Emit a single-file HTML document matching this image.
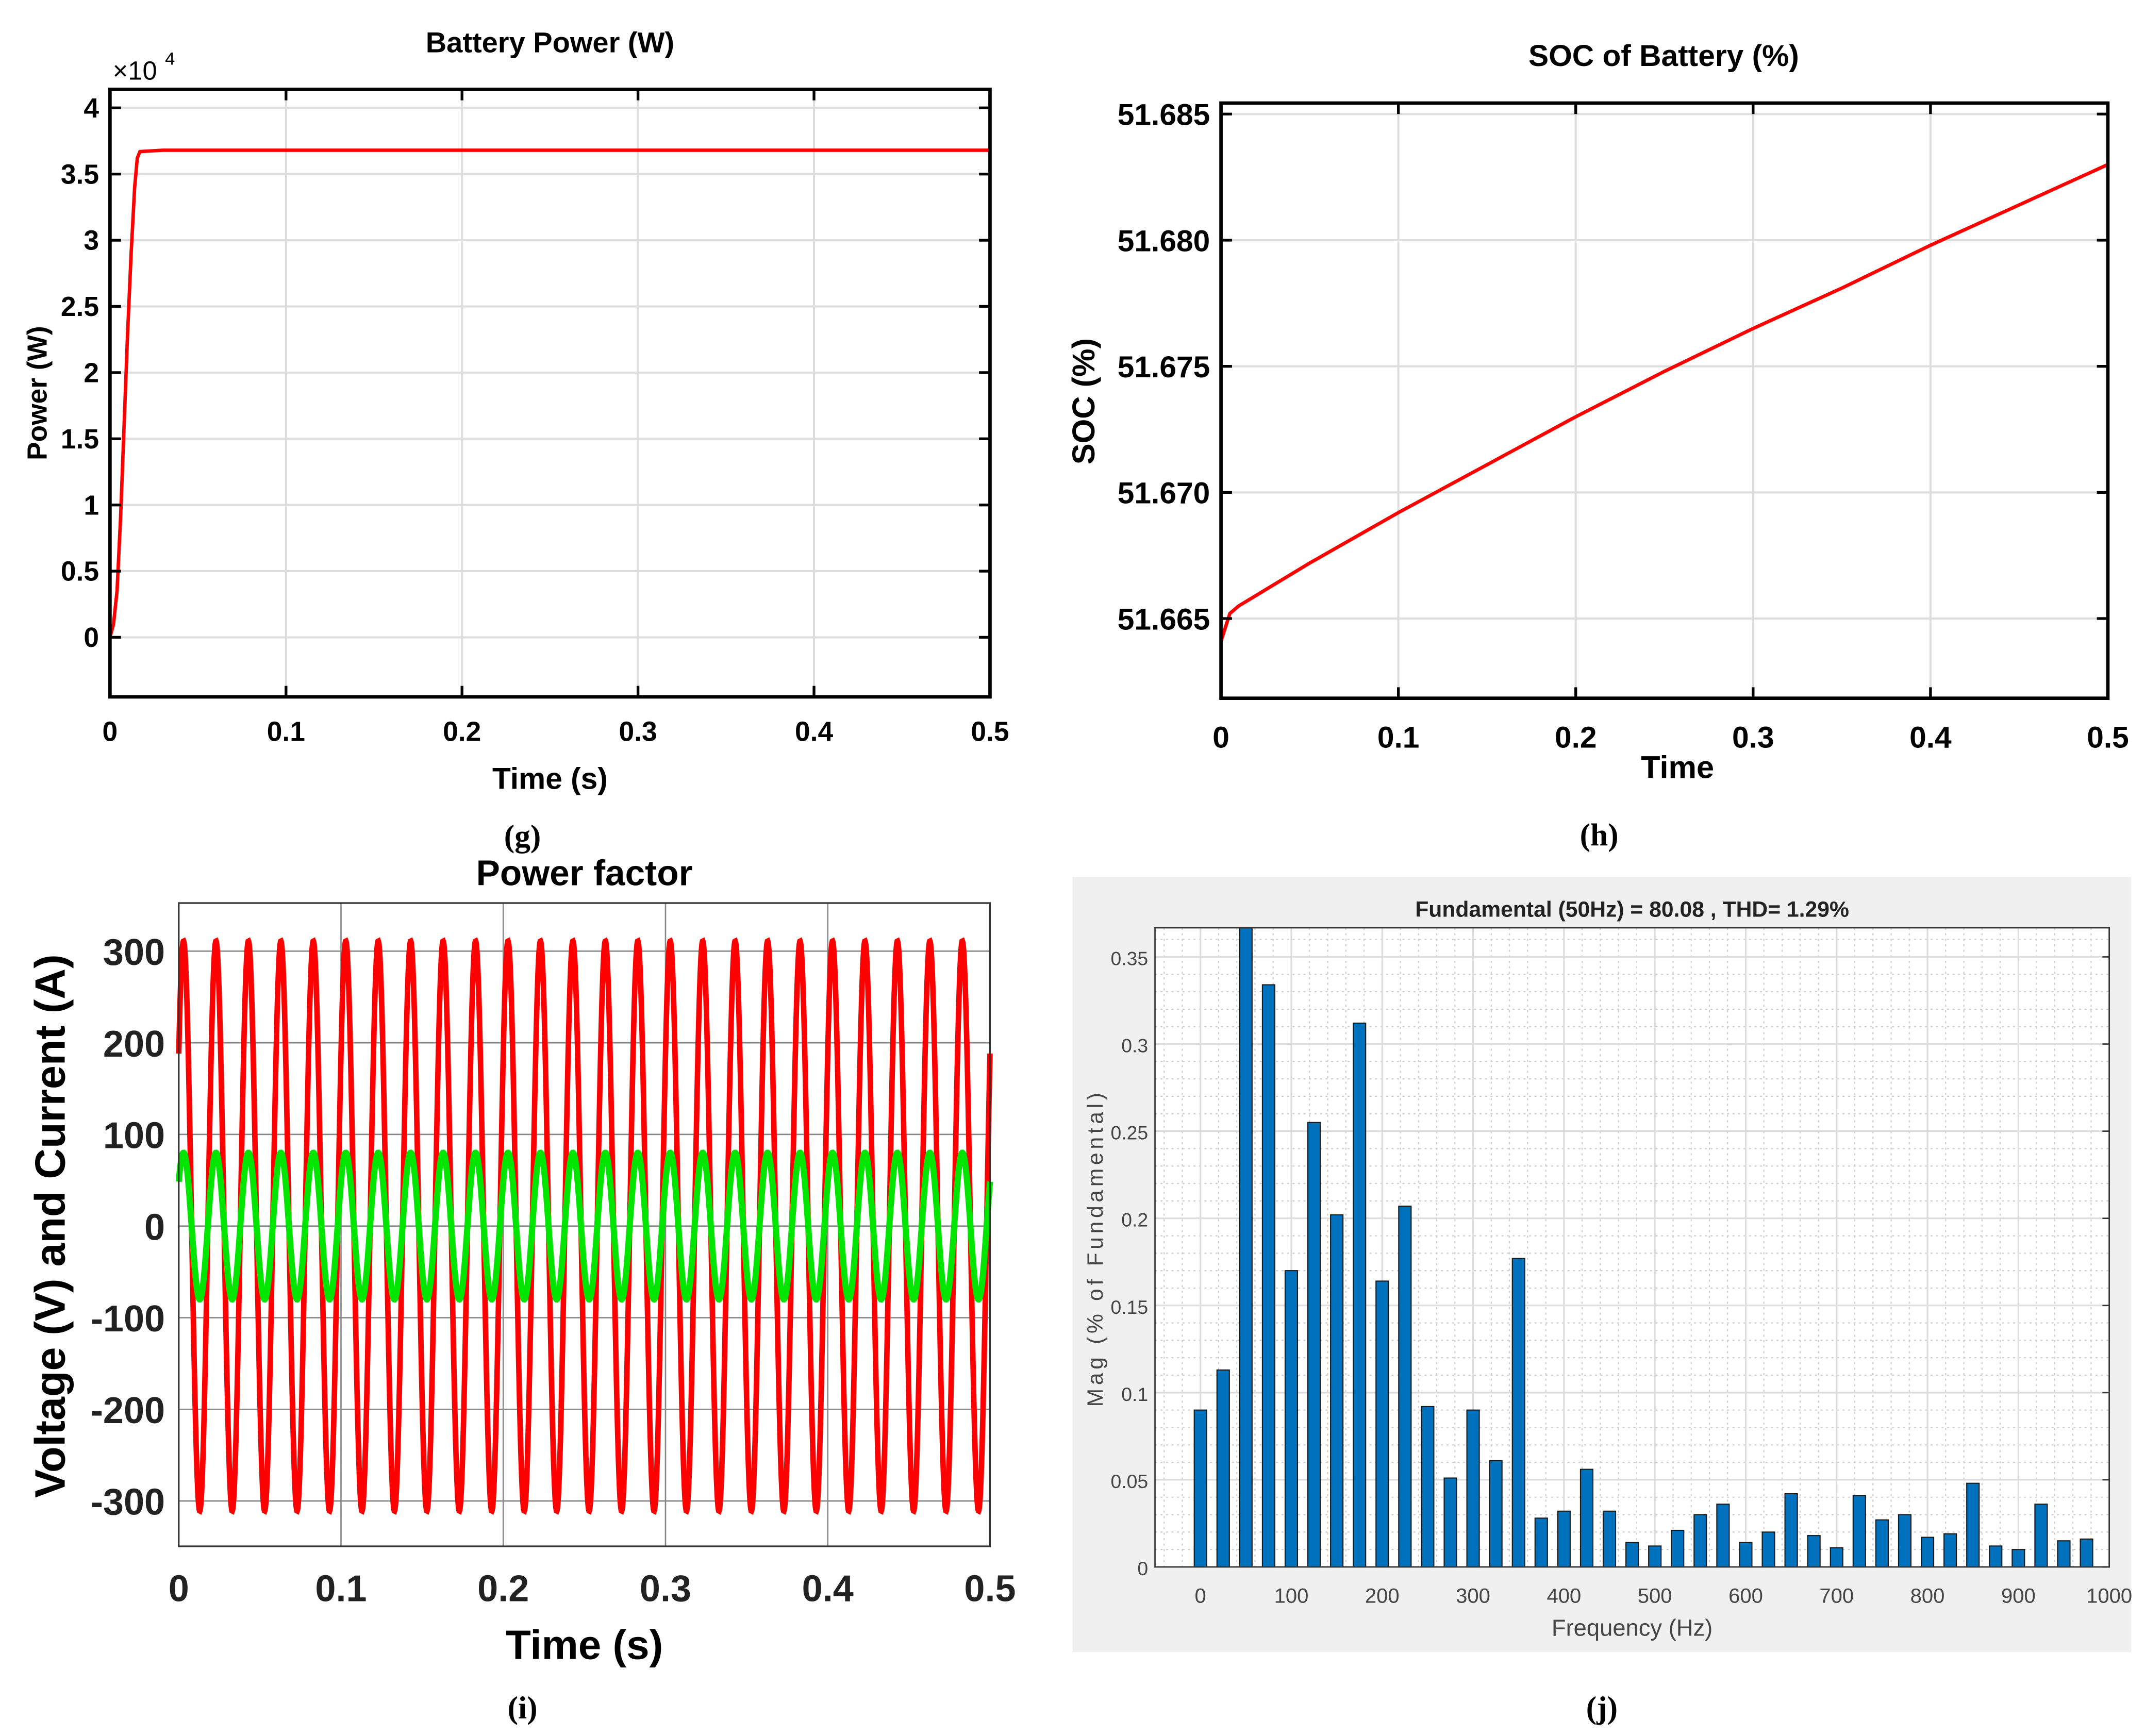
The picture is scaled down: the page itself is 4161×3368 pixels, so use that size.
<!DOCTYPE html>
<html><head><meta charset="utf-8"><style>
html,body{margin:0;padding:0;background:#fff}
svg{display:block}
text{font-family:"Liberation Sans",Arial,sans-serif}
text.serif{font-family:"Liberation Serif",serif}
</style></head><body>
<svg id="fig" xmlns="http://www.w3.org/2000/svg" width="4161" height="3368" viewBox="0 0 1560 1263" preserveAspectRatio="none"></svg>
<script>
// ---- Panel g data ----
const gTime=[0,0.002,0.004,0.006,0.008,0.010,0.012,0.014,0.0155,0.017,0.03,0.5];
const gPower=[0,0.1,0.35,0.9,1.6,2.3,2.9,3.4,3.62,3.67,3.68,3.68];
const gYTicks=[0,0.5,1,1.5,2,2.5,3,3.5,4];
const gXTicks=[0,0.1,0.2,0.3,0.4,0.5];
// ---- Panel h data ----
const hTime=[0,0.005,0.01,0.05,0.1,0.15,0.2,0.25,0.3,0.35,0.4,0.45,0.5];
const hSOC=[51.6641,51.6652,51.6655,51.6672,51.6692,51.6711,51.6730,51.6748,51.6765,51.6781,51.6798,51.6814,51.6830];
const hYTicks=[51.665,51.670,51.675,51.680,51.685];
const hXTicks=[0,0.1,0.2,0.3,0.4,0.5];
// ---- Panel i data ----
const iVoltAmp=[311];
const iCurrAmp=[80];
const iFreq=[50];
const iPhase=[0.65];
const iYTicks=[-300,-200,-100,0,100,200,300];
const iXTicks=[0,0.1,0.2,0.3,0.4,0.5];
// ---- Panel j data ----
const jFreqs=[0,25,50,75,100,125,150,175,200,225,250,275,300,325,350,375,400,425,450,475,500,525,550,575,600,625,650,675,700,725,750,775,800,825,850,875,900,925,950,975];
const jMags=[0.09,0.113,0.367,0.334,0.17,0.255,0.202,0.312,0.164,0.207,0.092,0.051,0.09,0.061,0.177,0.028,0.032,0.056,0.032,0.014,0.012,0.021,0.03,0.036,0.014,0.02,0.042,0.018,0.011,0.041,0.027,0.03,0.017,0.019,0.048,0.012,0.01,0.036,0.015,0.016];
const jYTicks=[0,0.05,0.1,0.15,0.2,0.25,0.3,0.35];
const jXTicks=[0,100,200,300,400,500,600,700,800,900,1000];

const NS="http://www.w3.org/2000/svg";
const svg=document.getElementById('fig');
function el(tag,attrs,parent,txt){const e=document.createElementNS(NS,tag);for(const k in attrs)e.setAttribute(k,attrs[k]);if(txt!==undefined)e.textContent=txt;(parent||svg).appendChild(e);return e;}
function lin(d0,d1,r0,r1){return v=>r0+(v-d0)/(d1-d0)*(r1-r0);}

// ================= Panel g =================
(function(){
const L=80,R=720,T=65,B=507;
const x=lin(0,0.5,L,R), y=lin(-0.45,4.14,B,T);
const g=el('g',{});


gYTicks.forEach(v=>{el('line',{x1:L,x2:R,y1:y(v),y2:y(v),stroke:'#ddd','stroke-width':1.5},g);});
gXTicks.forEach(v=>{el('line',{x1:x(v),x2:x(v),y1:T,y2:B,stroke:'#ddd','stroke-width':1.5},g);});
const p=el('polyline',{points:gTime.map((t,i)=>x(t)+','+y(gPower[i])).join(' '),fill:'none',stroke:'#ff0000','stroke-width':2.5},g);


el('rect',{x:L,y:T,width:R-L,height:B-T,fill:'none',stroke:'#000','stroke-width':2.5},g);
gYTicks.forEach(v=>{el('line',{x1:L,x2:L+8,y1:y(v),y2:y(v),stroke:'#000','stroke-width':2},g);el('line',{x1:R,x2:R-8,y1:y(v),y2:y(v),stroke:'#000','stroke-width':2},g);
const t=el('text',{x:L-8,y:y(v)+7,'text-anchor':'end','font-size':20,'font-weight':'bold'},g,String(v));

});
gXTicks.forEach(v=>{el('line',{x1:x(v),x2:x(v),y1:B,y2:B-8,stroke:'#000','stroke-width':2},g);el('line',{x1:x(v),x2:x(v),y1:T,y2:T+8,stroke:'#000','stroke-width':2},g);
const t=el('text',{x:x(v),y:B+32,'text-anchor':'middle','font-size':20,'font-weight':'bold'},g,String(v));

});
const ex=el('text',{x:82,y:58,'font-size':19},g,'×10');


el('text',{x:120,y:47,'font-size':13},g,'4');
const ti=el('text',{x:400,y:38,'text-anchor':'middle','font-size':21,'font-weight':'bold'},g,'Battery Power (W)');


const xl=el('text',{x:400,y:574,'text-anchor':'middle','font-size':22,'font-weight':'bold'},g,'Time (s)');


const yl=el('text',{x:0,y:0,'text-anchor':'middle','font-size':20,'font-weight':'bold',transform:'translate(34,286) rotate(-90)'},g,'Power (W)');


const c=el('text',{x:380,y:616,'text-anchor':'middle','font-size':23,'font-weight':'bold','class':'serif'},g,'(g)');


})();

// ================= Panel h =================
(function(){
const L=888,R=1533,T=75,B=508;
const x=lin(0,0.5,L,R), y=lin(51.665,51.685,450,83);
const g=el('g',{});


hYTicks.forEach(v=>{el('line',{x1:L,x2:R,y1:y(v),y2:y(v),stroke:'#ddd','stroke-width':1.5},g);});
hXTicks.forEach(v=>{el('line',{x1:x(v),x2:x(v),y1:T,y2:B,stroke:'#ddd','stroke-width':1.5},g);});
const p=el('polyline',{points:hTime.map((t,i)=>x(t)+','+y(hSOC[i])).join(' '),fill:'none',stroke:'#ff0000','stroke-width':2.5},g);


el('rect',{x:L,y:T,width:R-L,height:B-T,fill:'none',stroke:'#000','stroke-width':2.5},g);
hYTicks.forEach(v=>{el('line',{x1:L,x2:L+8,y1:y(v),y2:y(v),stroke:'#000','stroke-width':2},g);el('line',{x1:R,x2:R-8,y1:y(v),y2:y(v),stroke:'#000','stroke-width':2},g);
const t=el('text',{x:L-8,y:y(v)+8,'text-anchor':'end','font-size':22,'font-weight':'bold'},g,v.toFixed(3));

});
hXTicks.forEach(v=>{el('line',{x1:x(v),x2:x(v),y1:B,y2:B-8,stroke:'#000','stroke-width':2},g);el('line',{x1:x(v),x2:x(v),y1:T,y2:T+8,stroke:'#000','stroke-width':2},g);
const t=el('text',{x:x(v),y:B+36,'text-anchor':'middle','font-size':22,'font-weight':'bold'},g,String(v));

});
const ti=el('text',{x:1210,y:48,'text-anchor':'middle','font-size':22,'font-weight':'bold'},g,'SOC of Battery (%)');


const xl=el('text',{x:1220,y:566,'text-anchor':'middle','font-size':23,'font-weight':'bold'},g,'Time');


const yl=el('text',{x:0,y:0,'text-anchor':'middle','font-size':23,'font-weight':'bold',transform:'translate(796,292) rotate(-90)'},g,'SOC (%)');


const c=el('text',{x:1163,y:615,'text-anchor':'middle','font-size':23,'font-weight':'bold','class':'serif'},g,'(h)');


})();

// ================= Panel i =================
(function(){
const L=130,R=720,T=657,B=1125;
const x=lin(0,0.5,L,R), y=lin(-300,300,1092,692);
const g=el('g',{});


iYTicks.forEach(v=>{el('line',{x1:L,x2:R,y1:y(v),y2:y(v),stroke:'#888','stroke-width':1},g);});
iXTicks.forEach(v=>{el('line',{x1:x(v),x2:x(v),y1:T,y2:B,stroke:'#888','stroke-width':1},g);});
const N=2500;let vp=[],cp=[];
for(let k=0;k<=N;k++){const t=0.5*k/N;const w=2*Math.PI*iFreq[0]*t+iPhase[0];vp.push(x(t).toFixed(2)+','+y(iVoltAmp[0]*Math.sin(w)).toFixed(2));cp.push(x(t).toFixed(2)+','+y(iCurrAmp[0]*Math.sin(w)).toFixed(2));}
const pv=el('polyline',{points:vp.join(' '),fill:'none',stroke:'#ff0000','stroke-width':4},g);


const pc=el('polyline',{points:cp.join(' '),fill:'none',stroke:'#00e600','stroke-width':4.5},g);


el('rect',{x:L,y:T,width:R-L,height:B-T,fill:'none',stroke:'#333','stroke-width':1.2},g);
iYTicks.forEach(v=>{const t=el('text',{x:L-10,y:y(v)+10,'text-anchor':'end','font-size':27,'font-weight':'bold',fill:'#222'},g,String(v));

});
iXTicks.forEach(v=>{const t=el('text',{x:x(v),y:B+40,'text-anchor':'middle','font-size':27,'font-weight':'bold',fill:'#222'},g,String(v));

});
const ti=el('text',{x:425,y:644,'text-anchor':'middle','font-size':26,'font-weight':'bold'},g,'Power factor');


const xl=el('text',{x:425,y:1207,'text-anchor':'middle','font-size':30,'font-weight':'bold'},g,'Time (s)');


const yl=el('text',{x:0,y:0,'text-anchor':'middle','font-size':31,'font-weight':'bold',transform:'translate(47,892) rotate(-90)'},g,'Voltage (V) and Current (A)');


const c=el('text',{x:380,y:1250,'text-anchor':'middle','font-size':23,'font-weight':'bold','class':'serif'},g,'(i)');


})();

// ================= Panel j =================
(function(){
const L=840,R=1534,T=675,B=1140;
const x=lin(-50,1000,L,R), y=lin(0,0.3667,B,T);
const g=el('g',{});


el('rect',{x:780,y:638,width:770,height:564,fill:'#f0f0f0'},g);
el('rect',{x:L,y:T,width:R-L,height:B-T,fill:'#fff'},g);
for(let f=-40;f<1000;f+=20){el('line',{x1:x(f),x2:x(f),y1:T,y2:B,stroke:'#ccc','stroke-width':0.8,'stroke-dasharray':'1.5,2.5'},g);}
for(let m=0.01;m<0.367;m+=0.01){el('line',{x1:L,x2:R,y1:y(m),y2:y(m),stroke:'#ccc','stroke-width':0.8,'stroke-dasharray':'1.5,2.5'},g);}
jYTicks.forEach(v=>{el('line',{x1:L,x2:R,y1:y(v),y2:y(v),stroke:'#ddd','stroke-width':1.2},g);});
jXTicks.forEach(v=>{el('line',{x1:x(v),x2:x(v),y1:T,y2:B,stroke:'#ddd','stroke-width':1.2},g);});
jFreqs.forEach((f,i)=>{const m=Math.min(jMags[i],0.3667);const r=el('rect',{x:x(f)-4.5,y:y(m),width:9,height:y(0)-y(m),fill:'#0072bd',stroke:'#1a1a1a','stroke-width':0.8},g);

});
el('rect',{x:L,y:T,width:R-L,height:B-T,fill:'none',stroke:'#333','stroke-width':1},g);
jYTicks.forEach(v=>{el('line',{x1:R,x2:R-5,y1:y(v),y2:y(v),stroke:'#333','stroke-width':1},g);
const t=el('text',{x:L-5,y:y(v)+6,'text-anchor':'end','font-size':14,fill:'#444'},g,String(v));

});
jXTicks.forEach(v=>{const t=el('text',{x:x(v),y:B+26,'text-anchor':'middle','font-size':15,fill:'#444'},g,String(v));

});
const ti=el('text',{x:1187,y:667,'text-anchor':'middle','font-size':16,'font-weight':'bold',fill:'#222'},g,'Fundamental (50Hz) = 80.08 , THD= 1.29%');


const xl=el('text',{x:1187,y:1190,'text-anchor':'middle','font-size':17,fill:'#444'},g,'Frequency (Hz)');


const yl=el('text',{x:0,y:0,'text-anchor':'middle','font-size':16,fill:'#444','letter-spacing':'2.5',transform:'translate(802,908) rotate(-90)'},g,'Mag (% of Fundamental)');


const c=el('text',{x:1165,y:1250,'text-anchor':'middle','font-size':23,'font-weight':'bold','class':'serif'},g,'(j)');


})();
</script>
</body></html>
